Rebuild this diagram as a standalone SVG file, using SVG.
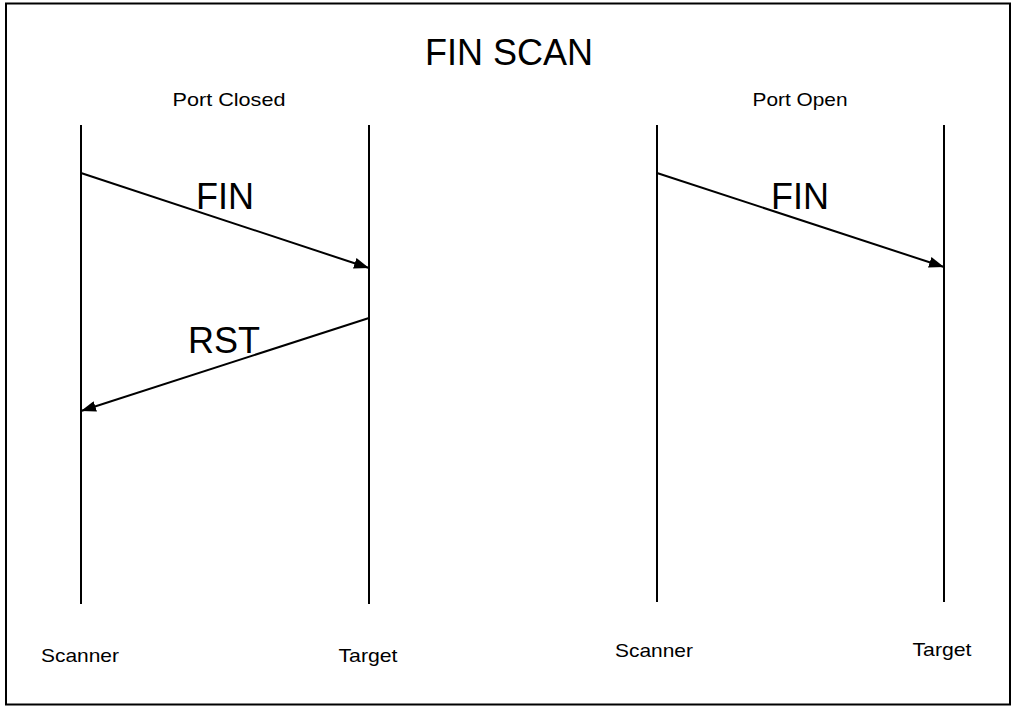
<svg xmlns="http://www.w3.org/2000/svg" width="1013" height="708" viewBox="0 0 1013 708">
<style>
text{font-family:"Liberation Sans",Arial,sans-serif;fill:#000}
.big{font-size:36px}
.lbl{font-size:19px}
.life{stroke:#000;stroke-width:2;fill:none}
.msg{stroke:#000;stroke-width:2;fill:none;marker-end:url(#ah)}
</style>
<defs>
<marker id="ah" viewBox="0 0 15 11" refX="15" refY="5.5" markerWidth="7.5" markerHeight="5.5" markerUnits="strokeWidth" orient="auto">
<path d="M0,0 L15,5.5 L0,11 z" fill="#000"/>
</marker>
</defs>
<rect x="6" y="3.5" width="1004" height="701" fill="#fff" stroke="#000" stroke-width="2"/>
<text class="big" x="509" y="65" text-anchor="middle" textLength="168" lengthAdjust="spacingAndGlyphs">FIN SCAN</text>
<g id="closed">
<text class="lbl" x="229" y="106" text-anchor="middle" textLength="113" lengthAdjust="spacingAndGlyphs">Port Closed</text>
</g>
<g id="open">
<text class="lbl" x="800" y="106" text-anchor="middle" textLength="95" lengthAdjust="spacingAndGlyphs">Port Open</text>
</g>
<g id="scanner1">
<line class="life" x1="81" y1="125" x2="81" y2="604"/>
<text class="lbl" x="80" y="662" text-anchor="middle" textLength="78" lengthAdjust="spacingAndGlyphs">Scanner</text>
</g>
<g id="target1">
<line class="life" x1="369" y1="125" x2="369" y2="604"/>
<text class="lbl" x="368" y="662" text-anchor="middle" textLength="59" lengthAdjust="spacingAndGlyphs">Target</text>
</g>
<g id="scanner2">
<line class="life" x1="657" y1="125" x2="657" y2="602"/>
<text class="lbl" x="654" y="657" text-anchor="middle" textLength="78" lengthAdjust="spacingAndGlyphs">Scanner</text>
</g>
<g id="target2">
<line class="life" x1="944" y1="125" x2="944" y2="602"/>
<text class="lbl" x="942" y="656" text-anchor="middle" textLength="59" lengthAdjust="spacingAndGlyphs">Target</text>
</g>
<g id="connectors">
<line class="msg" x1="81" y1="173" x2="369" y2="268"/>
<line class="msg" x1="369" y1="318" x2="81" y2="411"/>
<line class="msg" x1="657" y1="173" x2="944" y2="267"/>
<text class="big" x="225" y="209" text-anchor="middle">FIN</text>
<text class="big" x="224" y="353" text-anchor="middle">RST</text>
<text class="big" x="800" y="209" text-anchor="middle">FIN</text>
</g>
</svg>
